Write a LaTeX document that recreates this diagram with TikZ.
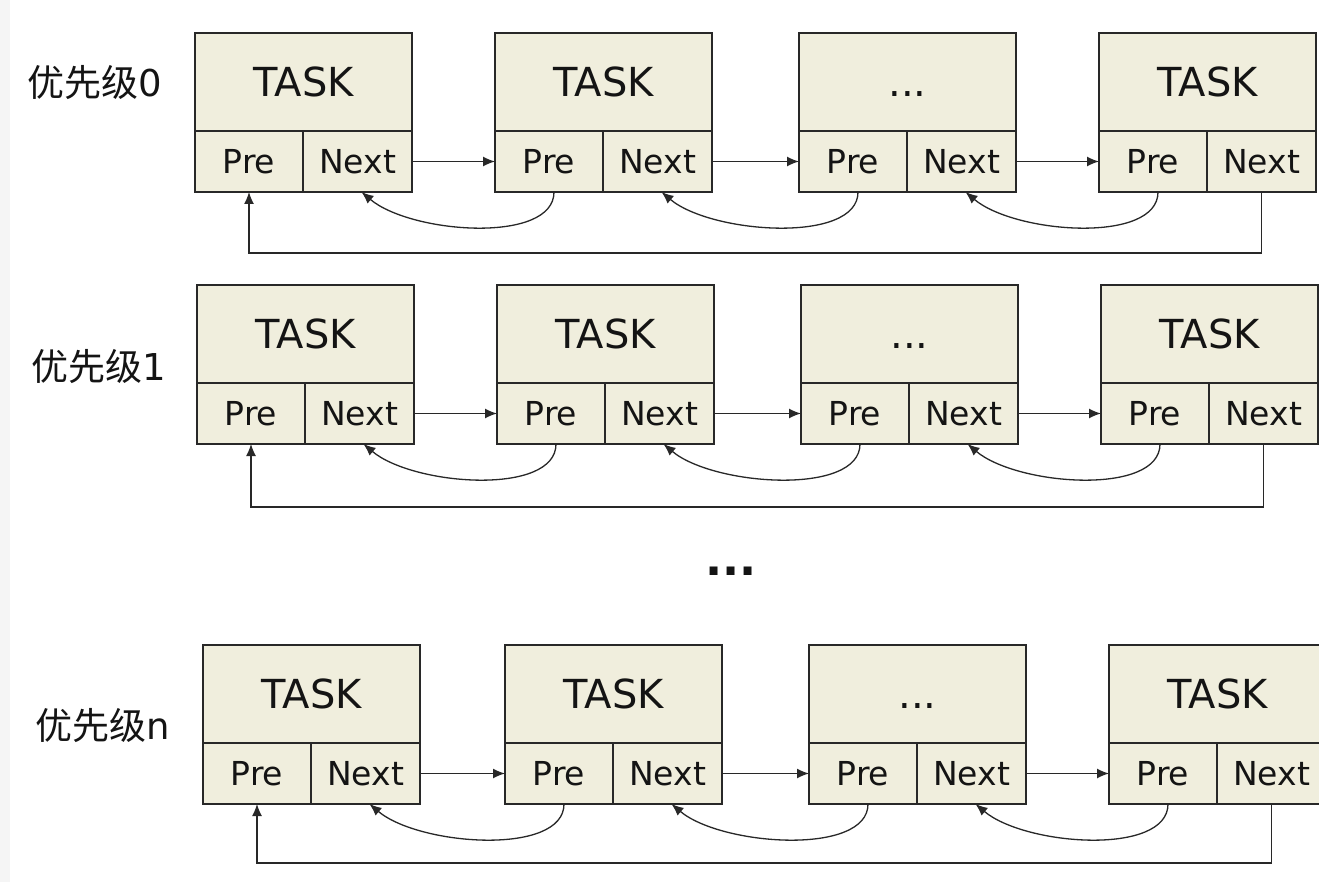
\documentclass[tikz,border=0pt]{standalone}
\usepackage{fontspec}
\setmainfont{DejaVu Sans}
\newfontfamily\cjk{Noto Sans CJK SC}
\usetikzlibrary{arrows.meta}
\definecolor{boxfill}{RGB}{240,238,221}
\definecolor{edge}{RGB}{40,40,40}
\definecolor{txt}{RGB}{20,20,20}
\definecolor{strip}{RGB}{245,245,245}
\newcommand\taskbox[4]{%
  \node[head] (#1) at (#2,#3) {\vphantom{TASK}#4};
  \node[half, minimum width=108] (#1p) at (#1.south west) {Pre};
  \node[half, minimum width=109] (#1n) at (#1p.north east) {Next};}
\newcommand\taskrow[7]{%
  \taskbox{#1a}{#3}{#2}{TASK}
  \taskbox{#1b}{#4}{#2}{TASK}
  \taskbox{#1c}{#5}{#2}{...}
  \taskbox{#1d}{#6}{#2}{TASK}
  \draw[arr] (#1an.east) -- (#1bp.west);
  \draw[arr] (#1bn.east) -- (#1cp.west);
  \draw[arr] (#1cn.east) -- (#1dp.west);
  \draw[arr] ([xshift=5]#1bp.south) .. controls +(0,52) and +(50,42) .. ([xshift=4]#1an.south);
  \draw[arr] ([xshift=5]#1cp.south) .. controls +(0,52) and +(50,42) .. ([xshift=4]#1bn.south);
  \draw[arr] ([xshift=5]#1dp.south) .. controls +(0,52) and +(50,42) .. ([xshift=4]#1cn.south);
  \coordinate (#1ret) at (0,#7);
  \draw[arr] (#1dn.south) -- (#1dn.south |- #1ret) -| (#1ap.south);}
\begin{document}
\begin{tikzpicture}[x=1pt,y=-1pt,
  cell/.style={draw=edge, line width=1.4pt, fill=boxfill, text=txt, inner sep=0pt, outer sep=0pt, anchor=north west},
  head/.style={cell, minimum width=217, minimum height=98, font=\fontsize{40}{40}\selectfont},
  half/.style={cell, minimum height=61, font=\fontsize{33}{33}\selectfont},
  arr/.style={draw=edge, line width=1.3pt, -{Latex[length=12pt,width=10pt]}},
  lbl/.style={anchor=west, text=txt, inner sep=0pt, font=\fontsize{37}{37}\selectfont}]
\useasboundingbox[fill=white] (0,0) rectangle (1319,882);
\fill[strip] (0,0) rectangle (10,882);
\taskrow{r0}{33}{195}{495}{799}{1099}{253}
\taskrow{r1}{285}{197}{497}{801}{1101}{507}
\taskrow{rn}{645}{203}{505}{809}{1109}{863}
\node[lbl] (l0) at (27,83) {{\cjk 优先级}0};
\node[lbl] (l1) at (31,367) {{\cjk 优先级}1};
\node[lbl] (ln) at (35,726) {{\cjk 优先级}n};
\node[anchor=base, inner sep=0pt, text=txt, font=\bfseries\fontsize{45}{45}\selectfont] (gap) at (731,575) {...};
\end{tikzpicture}
\end{document}
